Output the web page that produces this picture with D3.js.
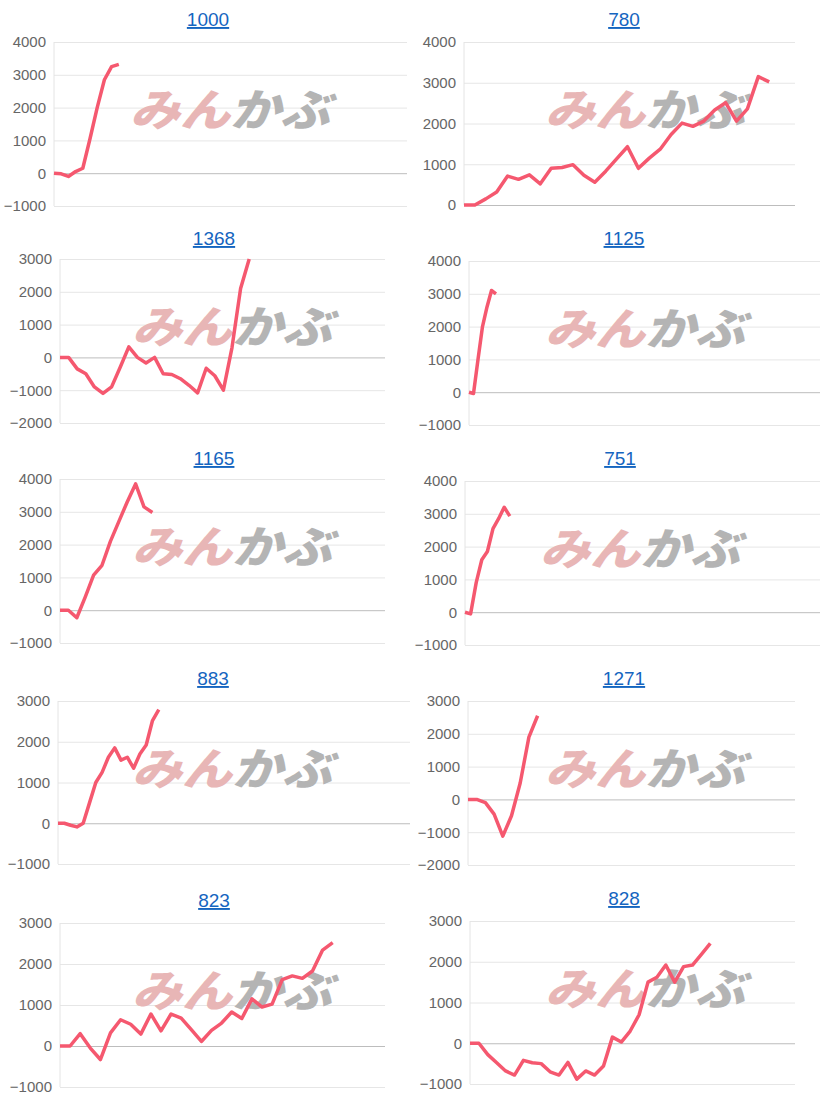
<!DOCTYPE html>
<html><head><meta charset="utf-8">
<script src="https://cdn.jsdelivr.net/npm/d3@7"></script>
<style>body{margin:0;background:#fff}</style></head>
<body><svg id="c" width="820" height="1100"></svg>
<script>
const titles = ["1000","780","1368","1125","1165","751","883","1271","823","828"];
const s1000 = [0,-20,-100,50,150,1050,2000,2850,3250,3320];
const s780 = [0,0,150,320,710,630,740,520,900,920,990,730,560,830,1130,1430,900,1150,1370,1730,2010,1930,2060,2330,2510,2060,2360,3150,3020];
const s1368 = [0,0,-350,-500,-900,-1100,-900,-300,320,0,-170,0,-500,-520,-650,-850,-1080,-330,-560,-1000,300,2100,3000];
const s1125 = [0,-40,1000,2000,2600,3100,3000];
const s1165 = [0,0,-230,400,1070,1370,2100,2700,3300,3850,3150,2980];
const s751 = [0,-50,900,1600,1850,2550,2850,3200,2930];
const s883 = [0,0,-50,-90,0,500,1000,1250,1620,1850,1550,1620,1350,1700,1920,2520,2790];
const s1271 = [0,0,-100,-450,-1120,-500,500,1900,2550];
const s823 = [0,0,300,-50,-330,320,640,530,290,780,370,780,680,400,110,380,560,830,670,1150,950,1020,1620,1710,1650,1830,2340,2520];
const s828 = [0,0,-280,-480,-680,-780,-420,-480,-500,-700,-780,-470,-880,-680,-780,-560,150,30,300,700,1500,1620,1920,1500,1880,1920,2180,2450];
const series = [s1000,s780,s1368,s1125,s1165,s751,s883,s1271,s823,s828];
const yDomains = [[-1000,4000],[0,4000],[-2000,3000],[-1000,4000],[-1000,4000],[-1000,4000],[-1000,3000],[-2000,3000],[-1000,3000],[-1000,3000]];
// layout: [left,right,yTop,yBottom,stepPx,titleY,titleX]
const layout = [
 [54,407,42,206,7.2,19,208],
 [464,795,42,205,10.9,19,624],
 [60,385,259,423,8.6,238,214],
 [469,820,261,425,4.5,238,624],
 [60,385,479,643,8.4,458,214],
 [465,820,481,645,5.6,458,620],
 [58,410,701,864,6.3,678,213],
 [468,795,701,865,8.7,678,624],
 [60,385,923,1087,10.1,900,214],
 [470,795,921,1084,8.9,898,624]
];
const wmX = [230,645,232,645,232,640,232,645,232,645];
const svg = d3.select("#c");
series.forEach((data,i)=>{
  const [L,R,T,B,step,ty,tx] = layout[i];
  const dom = yDomains[i];
  const y = d3.scaleLinear().domain(dom).range([B,T]);
  const x = d3.scaleLinear().domain([0,(R-L)/step]).range([L,R]);
  const g = svg.append("g");
  const ticks = d3.range(dom[0],dom[1]+1,1000);
  g.append("g").attr("transform",`translate(${L},0)`)
   .call(d3.axisLeft(y).tickValues(ticks).tickSize(-(R-L)).tickPadding(8).tickFormat(d3.format("d")))
   .call(a=>{a.select(".domain").remove();
     a.selectAll("line").attr("stroke",d=>d===0?"#bdbdbd":"#e6e6e6");
     a.selectAll("text").attr("fill","#666").style("font","15px Arial, 'Liberation Sans', sans-serif");});
  g.append("line").attr("x1",L).attr("x2",L).attr("y1",T).attr("y2",B).attr("stroke","#e4e4e4");
  const wy = (T+B)/2 + 2;
  const wm = g.append("text").attr("x",wmX[i]).attr("y",wy).attr("text-anchor","middle")
    .attr("textLength",200).attr("lengthAdjust","spacingAndGlyphs")
    .style("font","italic 900 44px 'Noto Sans CJK JP', sans-serif");
  wm.append("tspan").attr("fill","#e8b6b6").text("みん");
  wm.append("tspan").attr("fill","#b4b4b4").text("かぶ");
  g.append("path").datum(data).attr("fill","none").attr("stroke","#f5586f").attr("stroke-width",3.5)
   .attr("stroke-linejoin","round")
   .attr("d",d3.line().x((d,j)=>x(j)).y(d=>y(d)));
  g.append("text").attr("x",tx).attr("y",ty+7).attr("text-anchor","middle")
   .attr("fill","#1565c0").attr("text-decoration","underline")
   .style("font","19px Arial, 'Liberation Sans', sans-serif").text(titles[i]);
});
</script></body></html>
